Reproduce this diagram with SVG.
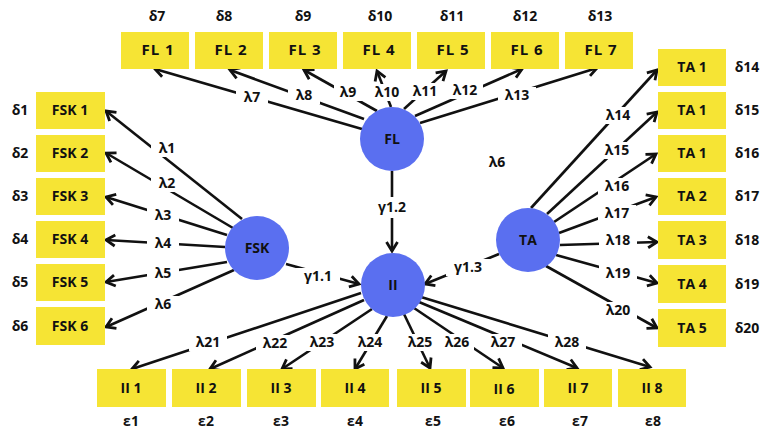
<svg xmlns="http://www.w3.org/2000/svg" width="762" height="430" viewBox="0 0 762 430">
  <style>
    .box { fill: #f6e434; }
    .lat { fill: #5a6ff0; }
    .t { font-family: "Open Sans", "Liberation Sans", sans-serif; font-weight: 700; font-size: 14px; fill: #111; text-anchor: middle; }
    .tw { font-size: 15px; letter-spacing: 1px; }
    .err { font-family: "Open Sans", "Liberation Sans", sans-serif; font-weight: 700; font-size: 14px; fill: #111; text-anchor: middle; }
    .lbl { font-family: "Open Sans", "Liberation Sans", sans-serif; font-weight: 700; font-size: 14px; fill: #111; text-anchor: middle; }
    .edge { stroke: #111; stroke-width: 2.6; fill: none; marker-end: url(#arr); }
    .bg { fill: #fff; }
  </style>
  <defs>
    <marker id="arr" markerUnits="userSpaceOnUse" markerWidth="16" markerHeight="16" viewBox="0 0 16 16" refX="12" refY="8" orient="auto">
      <path d="M3,2.5 L12,8 L3,13.5" fill="none" stroke="#111" stroke-width="2.8" stroke-linejoin="miter"/>
    </marker>
  </defs>

  <rect width="762" height="430" fill="#fff"/>

  <!-- connectors: loadings and structural paths -->
  <g id="connectors">
    <!-- FL loadings -->
    <line class="edge" x1="362" y1="129" x2="155" y2="69"/>
    <line class="edge" x1="364" y1="119" x2="230" y2="70"/>
    <line class="edge" x1="377" y1="111" x2="304" y2="70"/>
    <line class="edge" x1="391" y1="107" x2="377" y2="71"/>
    <line class="edge" x1="404" y1="109" x2="446" y2="71"/>
    <line class="edge" x1="415" y1="116" x2="522" y2="69"/>
    <line class="edge" x1="420" y1="123" x2="597" y2="68"/>
    <!-- FSK loadings -->
    <line class="edge" x1="242" y1="219" x2="106" y2="111"/>
    <line class="edge" x1="233" y1="228" x2="106" y2="153"/>
    <line class="edge" x1="227" y1="235" x2="106" y2="197"/>
    <line class="edge" x1="225" y1="247" x2="106" y2="240"/>
    <line class="edge" x1="227" y1="262" x2="106" y2="282"/>
    <line class="edge" x1="234" y1="270" x2="106" y2="327"/>
    <!-- TA loadings -->
    <line class="edge" x1="531" y1="208" x2="657" y2="70"/>
    <line class="edge" x1="547" y1="214" x2="657" y2="112"/>
    <line class="edge" x1="554" y1="222" x2="656" y2="154"/>
    <line class="edge" x1="559" y1="233" x2="656" y2="197"/>
    <line class="edge" x1="560" y1="245" x2="657" y2="242"/>
    <line class="edge" x1="556" y1="255" x2="657" y2="283"/>
    <line class="edge" x1="546" y1="266" x2="657" y2="328"/>
    <!-- II loadings -->
    <line class="edge" x1="361" y1="293" x2="132" y2="369"/>
    <line class="edge" x1="364" y1="300" x2="210" y2="369"/>
    <line class="edge" x1="372" y1="309" x2="282" y2="369"/>
    <line class="edge" x1="387" y1="316" x2="355" y2="369"/>
    <line class="edge" x1="404" y1="314" x2="430" y2="368"/>
    <line class="edge" x1="414" y1="308" x2="503" y2="368"/>
    <line class="edge" x1="419" y1="302" x2="577" y2="368"/>
    <line class="edge" x1="421" y1="297" x2="650" y2="367"/>
    <!-- structural paths -->
    <line class="edge" x1="286" y1="264" x2="359" y2="284"/>
    <line class="edge" x1="392" y1="171" x2="392" y2="251"/>
    <line class="edge" x1="499" y1="254" x2="425" y2="284"/>

    <!-- path labels, each on a white patch that breaks its line -->
    <g id="path-labels">
      <rect class="bg" x="236" y="89" width="32" height="17"/><text class="lbl" x="252" y="102">λ7</text>
      <rect class="bg" x="288" y="87" width="32" height="17"/><text class="lbl" x="304" y="100">λ8</text>
      <rect class="bg" x="334" y="84" width="28" height="17"/><text class="lbl" x="348" y="97">λ9</text>
      <rect class="bg" x="370" y="84" width="34" height="17"/><text class="lbl" x="387" y="97">λ10</text>
      <rect class="bg" x="409" y="83" width="32" height="17"/><text class="lbl" x="425" y="96">λ11</text>
      <rect class="bg" x="447" y="82" width="36" height="17"/><text class="lbl" x="465" y="95">λ12</text>
      <rect class="bg" x="498" y="87" width="38" height="17"/><text class="lbl" x="517" y="100">λ13</text>

      <rect class="bg" x="151" y="140" width="32" height="17"/><text class="lbl" x="167" y="153">λ1</text>
      <rect class="bg" x="151" y="175" width="32" height="17"/><text class="lbl" x="167" y="188">λ2</text>
      <rect class="bg" x="147" y="207" width="32" height="17"/><text class="lbl" x="163" y="220">λ3</text>
      <rect class="bg" x="147" y="235" width="32" height="17"/><text class="lbl" x="163" y="248">λ4</text>
      <rect class="bg" x="147" y="265" width="32" height="17"/><text class="lbl" x="163" y="278">λ5</text>
      <rect class="bg" x="147" y="296" width="32" height="17"/><text class="lbl" x="163" y="309">λ6</text>

      <rect class="bg" x="599" y="107" width="38" height="17"/><text class="lbl" x="618" y="120">λ14</text>
      <rect class="bg" x="598" y="142" width="38" height="17"/><text class="lbl" x="617" y="155">λ15</text>
      <rect class="bg" x="598" y="178" width="38" height="17"/><text class="lbl" x="617" y="191">λ16</text>
      <rect class="bg" x="598" y="205" width="38" height="17"/><text class="lbl" x="617" y="218">λ17</text>
      <rect class="bg" x="599" y="232" width="38" height="17"/><text class="lbl" x="618" y="245">λ18</text>
      <rect class="bg" x="599" y="265" width="38" height="17"/><text class="lbl" x="618" y="278">λ19</text>
      <rect class="bg" x="599" y="302" width="38" height="17"/><text class="lbl" x="618" y="315">λ20</text>

      <rect class="bg" x="189" y="334" width="38" height="17"/><text class="lbl" x="208" y="347">λ21</text>
      <rect class="bg" x="256" y="335" width="38" height="17"/><text class="lbl" x="275" y="348">λ22</text>
      <rect class="bg" x="304" y="334" width="36" height="17"/><text class="lbl" x="322" y="347">λ23</text>
      <rect class="bg" x="353" y="334" width="34" height="17"/><text class="lbl" x="370" y="347">λ24</text>
      <rect class="bg" x="403" y="334" width="34" height="17"/><text class="lbl" x="420" y="347">λ25</text>
      <rect class="bg" x="440" y="334" width="34" height="17"/><text class="lbl" x="457" y="347">λ26</text>
      <rect class="bg" x="484" y="334" width="38" height="17"/><text class="lbl" x="503" y="347">λ27</text>
      <rect class="bg" x="548" y="334" width="38" height="17"/><text class="lbl" x="567" y="347">λ28</text>

      <rect class="bg" x="296" y="268" width="44" height="17"/><text class="lbl" x="318" y="281">γ1.1</text>
      <rect class="bg" x="372" y="197" width="40" height="21"/><text class="lbl" x="392" y="212">γ1.2</text>
      <rect class="bg" x="446" y="259" width="44" height="17"/><text class="lbl" x="468" y="272">γ1.3</text>

      <text class="lbl" x="497" y="167">λ6</text>
    </g>
  </g>

  <!-- latent variables -->
  <g id="FL"><circle class="lat" cx="392" cy="139" r="32"/><text class="t" x="392" y="144">FL</text></g>
  <g id="FSK"><circle class="lat" cx="257" cy="248" r="32"/><text class="t" x="257" y="253">FSK</text></g>
  <g id="II"><circle class="lat" cx="393" cy="285" r="32"/><text class="t" x="393" y="290">II</text></g>
  <g id="TA"><circle class="lat" cx="528" cy="240" r="32"/><text class="t" x="528" y="245">TA</text></g>

  <!-- FL indicators -->
  <g id="FL1"><rect class="box" x="121" y="32" width="68" height="37"/><text class="t tw" x="158" y="55">FL 1</text><text class="err" x="157" y="21">δ7</text></g>
  <g id="FL2"><rect class="box" x="195" y="32" width="68" height="37"/><text class="t tw" x="231" y="55">FL 2</text><text class="err" x="224" y="21">δ8</text></g>
  <g id="FL3"><rect class="box" x="269" y="32" width="68" height="37"/><text class="t tw" x="305" y="55">FL 3</text><text class="err" x="303" y="21">δ9</text></g>
  <g id="FL4"><rect class="box" x="343" y="32" width="68" height="37"/><text class="t tw" x="379" y="55">FL 4</text><text class="err" x="380" y="21">δ10</text></g>
  <g id="FL5"><rect class="box" x="417" y="32" width="68" height="37"/><text class="t tw" x="453" y="55">FL 5</text><text class="err" x="452" y="21">δ11</text></g>
  <g id="FL6"><rect class="box" x="491" y="32" width="68" height="37"/><text class="t tw" x="527" y="55">FL 6</text><text class="err" x="525" y="21">δ12</text></g>
  <g id="FL7"><rect class="box" x="565" y="32" width="68" height="37"/><text class="t tw" x="601" y="55">FL 7</text><text class="err" x="600" y="21">δ13</text></g>

  <!-- FSK indicators -->
  <g id="FSK1"><rect class="box" x="36" y="92" width="69" height="37"/><text class="t" x="70" y="115">FSK 1</text><text class="err" x="20" y="115">δ1</text></g>
  <g id="FSK2"><rect class="box" x="36" y="135" width="69" height="37"/><text class="t" x="70" y="158">FSK 2</text><text class="err" x="20" y="158">δ2</text></g>
  <g id="FSK3"><rect class="box" x="36" y="178" width="69" height="37"/><text class="t" x="70" y="201">FSK 3</text><text class="err" x="20" y="201">δ3</text></g>
  <g id="FSK4"><rect class="box" x="36" y="221" width="69" height="37"/><text class="t" x="70" y="244">FSK 4</text><text class="err" x="20" y="244">δ4</text></g>
  <g id="FSK5"><rect class="box" x="36" y="264" width="69" height="37"/><text class="t" x="70" y="287">FSK 5</text><text class="err" x="20" y="287">δ5</text></g>
  <g id="FSK6"><rect class="box" x="36" y="307" width="69" height="38"/><text class="t" x="70" y="331">FSK 6</text><text class="err" x="20" y="331">δ6</text></g>

  <!-- TA indicators -->
  <g id="TA1a"><rect class="box" x="658" y="49" width="68" height="37"/><text class="t" x="692" y="72">TA 1</text><text class="err" x="747" y="72">δ14</text></g>
  <g id="TA1b"><rect class="box" x="658" y="92" width="68" height="37"/><text class="t" x="692" y="115">TA 1</text><text class="err" x="747" y="115">δ15</text></g>
  <g id="TA1c"><rect class="box" x="658" y="135" width="68" height="37"/><text class="t" x="692" y="158">TA 1</text><text class="err" x="747" y="158">δ16</text></g>
  <g id="TA2"><rect class="box" x="658" y="178" width="68" height="37"/><text class="t" x="692" y="201">TA 2</text><text class="err" x="747" y="201">δ17</text></g>
  <g id="TA3"><rect class="box" x="658" y="221" width="68" height="38"/><text class="t" x="692" y="245">TA 3</text><text class="err" x="747" y="245">δ18</text></g>
  <g id="TA4"><rect class="box" x="658" y="265" width="68" height="38"/><text class="t" x="692" y="289">TA 4</text><text class="err" x="747" y="289">δ19</text></g>
  <g id="TA5"><rect class="box" x="658" y="309" width="68" height="38"/><text class="t" x="692" y="333">TA 5</text><text class="err" x="747" y="333">δ20</text></g>

  <!-- II indicators -->
  <g id="II1"><rect class="box" x="97" y="369" width="69" height="38"/><text class="t" x="131" y="393">II 1</text><text class="err" x="131" y="426">ε1</text></g>
  <g id="II2"><rect class="box" x="172" y="369" width="69" height="38"/><text class="t" x="206" y="393">II 2</text><text class="err" x="206" y="426">ε2</text></g>
  <g id="II3"><rect class="box" x="247" y="369" width="69" height="38"/><text class="t" x="281" y="393">II 3</text><text class="err" x="281" y="426">ε3</text></g>
  <g id="II4"><rect class="box" x="321" y="369" width="68" height="38"/><text class="t" x="355" y="393">II 4</text><text class="err" x="355" y="426">ε4</text></g>
  <g id="II5"><rect class="box" x="397" y="369" width="69" height="38"/><text class="t" x="431" y="393">II 5</text><text class="err" x="433" y="426">ε5</text></g>
  <g id="II6"><rect class="box" x="470" y="369" width="69" height="38"/><text class="t" x="504" y="394">II 6</text><text class="err" x="507" y="426">ε6</text></g>
  <g id="II7"><rect class="box" x="544" y="369" width="68" height="38"/><text class="t" x="578" y="393">II 7</text><text class="err" x="580" y="426">ε7</text></g>
  <g id="II8"><rect class="box" x="618" y="369" width="68" height="38"/><text class="t" x="652" y="393">II 8</text><text class="err" x="653" y="426">ε8</text></g>
</svg>
